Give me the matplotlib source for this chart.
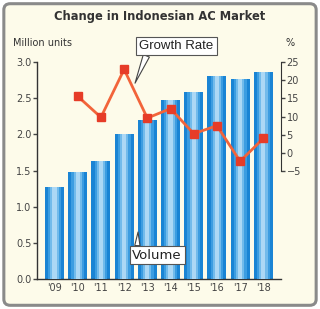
import matplotlib.pyplot as plt
from matplotlib.patches import FancyBboxPatch

years = ["'09", "'10", "'11", "'12", "'13", "'14", "'15", "'16", "'17", "'18"]
volume = [1.27, 1.48, 1.63, 2.00, 2.20, 2.47, 2.58, 2.81, 2.76, 2.87]
growth_years = years[1:]
growth = [15.6, 9.8, 23.0, 9.6, 12.2, 5.3, 7.5, -2.3, 4.0]

bg = '#fdfbea'
fig = plt.figure(figsize=(3.2, 3.09), dpi=100)
fig.patch.set_facecolor('white')
frame = FancyBboxPatch((0.012, 0.012), 0.976, 0.976, boxstyle='round,pad=0,rounding_size=0.02',
                       transform=fig.transFigure, facecolor=bg, edgecolor='#8a8a8a', lw=2.2,
                       zorder=-10)
fig.patches.append(frame)

ax = fig.add_axes([0.116, 0.097, 0.762, 0.702])
ax.set_facecolor('none')
x = list(range(len(years)))
# fake the bar shading with stacked narrower bars
ax.bar(x, volume, width=0.82, color='#1a84d4', zorder=2)
ax.bar(x, volume, width=0.55, color='#3c9de1', zorder=3)
ax.bar(x, volume, width=0.36, color='#72bbeb', zorder=3)
ax.bar(x, volume, width=0.18, color='#acd8f5', zorder=3)
ax.set_xlim(-0.75, 9.76)
ax.set_ylim(0, 3.0)
ax.set_yticks([0, 0.5, 1.0, 1.5, 2.0, 2.5, 3.0])
ax.set_yticklabels(['0.0', '0.5', '1.0', '1.5', '2.0', '2.5', '3.0'])
ax.set_xticks(x)
ax.set_xticklabels(years)
for s in ['top', 'right']:
    ax.spines[s].set_visible(False)
for s in ['left', 'bottom']:
    ax.spines[s].set_color('#333333')
    ax.spines[s].set_linewidth(1.0)
ax.tick_params(axis='y', direction='out', length=3, width=1, colors='#444444', labelsize=7, pad=1)
ax.tick_params(axis='x', length=0, labelsize=7, colors='#444444', pad=3)

ax2 = ax.twinx()
gx = list(range(1, len(years)))
ax2.plot(gx, growth, color='#f2643a', lw=2, zorder=4)
ax2.plot(gx, growth, 's', color='#e63c28', ms=5.5, zorder=5)
ax2.set_ylim(-34.7, 25)
ax2.set_yticks([-5, 0, 5, 10, 15, 20, 25])
ax2.set_yticklabels(['\u22125', '0', '5', '10', '15', '20', '25'])
for s in ['top', 'left', 'bottom']:
    ax2.spines[s].set_visible(False)
ax2.spines['right'].set_bounds(-5, 25)
ax2.spines['right'].set_color('#333333')
ax2.tick_params(axis='y', direction='out', length=3, width=1, colors='#444444', labelsize=7, pad=1)

fig.text(0.5, 0.945, 'Change in Indonesian AC Market', ha='center', va='center',
         fontsize=8.3, fontweight='bold', color='#333333')
fig.text(0.04, 0.862, 'Million units', ha='left', va='center', fontsize=7, color='#333333')
fig.text(0.905, 0.862, '%', ha='center', va='center', fontsize=7, color='#333333')

ax2.annotate('Growth Rate', xy=(3.47, 19.2), xytext=(5.24, 29.4), ha='center', va='center',
             fontsize=9.5, family='Liberation Sans', color='#222222', annotation_clip=False,
             bbox=dict(boxstyle='square,pad=0.25', fc='white', ec='#555555', lw=0.8),
             arrowprops=dict(arrowstyle='wedge,tail_width=0.5', fc='white', ec='#444444',
                             lw=0.8, shrinkA=0, shrinkB=0,
                             relpos=(0.12, 0.0)), zorder=6)
ax.annotate('Volume', xy=(3.6, 0.65), xytext=(4.42, 0.33), ha='center', va='center',
            fontsize=9.5, color='#222222',
            bbox=dict(boxstyle='square,pad=0.2', fc='white', ec='#555555', lw=0.8),
            arrowprops=dict(arrowstyle='wedge,tail_width=0.4', fc='white', ec='#444444',
                            lw=0.8, shrinkA=0, shrinkB=0, relpos=(0.1, 1.0)), zorder=6)

fig.savefig('out.png', dpi=100, facecolor=fig.get_facecolor())
